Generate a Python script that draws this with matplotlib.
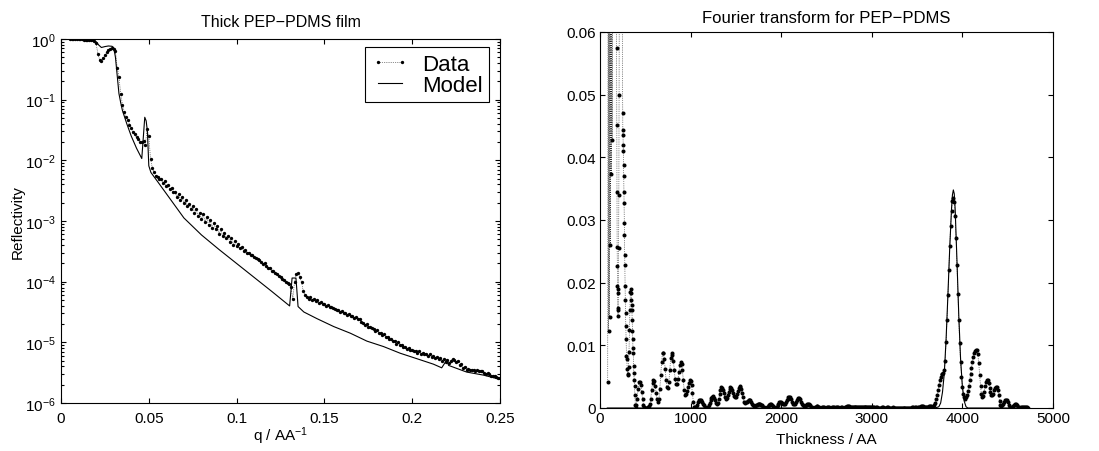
import numpy as np
import matplotlib
matplotlib.use("Agg")
import matplotlib.pyplot as plt
from matplotlib.ticker import FuncFormatter, FixedLocator, LogFormatterSciNotation, NullFormatter

plt.rcParams['font.family'] = ['Liberation Sans', 'DejaVu Sans']
plt.rcParams['mathtext.default'] = 'regular'
plt.rcParams['axes.linewidth'] = 0.8

# ---------------- Reflectivity (left panel) ----------------
# measured reflectivity, log10 values on a uniform q grid starting at 0.005 1/AA, step 0.001
log_refl_data = [
    0.000, -0.001, -0.001, -0.003, -0.002, -0.004, -0.006, -0.005, -0.009, -0.010,
    -0.013, -0.015, -0.018, -0.024, -0.036, -0.07, -0.25, -0.34, -0.36, -0.31,
    -0.27, -0.22, -0.185, -0.16, -0.155, -0.16, -0.20, -0.47, -0.62, -0.91,
    -1.08, -1.20, -1.29, -1.33, -1.41, -1.46, -1.53, -1.57, -1.62, -1.65,
    -1.69, -1.70, -1.68, -1.74, -1.49, -1.60, -1.98, -2.12, -2.19, -2.25,
    -2.28, -2.30, -2.31, -2.37, -2.34, -2.42, -2.41, -2.48, -2.45, -2.53,
    -2.52, -2.60, -2.56, -2.65, -2.61, -2.70, -2.66, -2.76, -2.72, -2.81,
    -2.76, -2.86, -2.80, -2.92, -2.87, -2.97, -2.89, -3.01, -2.94, -3.07,
    -2.98, -3.11, -3.03, -3.14, -3.09, -3.21, -3.14, -3.25, -3.19, -3.28,
    -3.24, -3.34, -3.28, -3.39, -3.33, -3.42, -3.38, -3.45, -3.43, -3.49,
    -3.48, -3.52, -3.52, -3.56, -3.56, -3.60, -3.61, -3.63, -3.65, -3.68,
    -3.71, -3.70, -3.74, -3.78, -3.78, -3.82, -3.83, -3.85, -3.88, -3.90,
    -3.93, -3.95, -3.98, -4.00, -4.02, -4.04, -4.09, -4.28, -4.00, -3.88,
    -3.86, -3.93, -4.01, -4.16, -4.22, -4.25, -4.28, -4.26, -4.30, -4.29,
    -4.32, -4.31, -4.35, -4.34, -4.37, -4.36, -4.40, -4.39, -4.42, -4.42,
    -4.44, -4.45, -4.47, -4.46, -4.50, -4.49, -4.52, -4.51, -4.55, -4.53,
    -4.57, -4.56, -4.60, -4.59, -4.62, -4.61, -4.67, -4.68, -4.71, -4.70,
    -4.74, -4.74, -4.77, -4.78, -4.81, -4.80, -4.84, -4.85, -4.88, -4.87,
    -4.91, -4.92, -4.95, -4.94, -4.98, -4.98, -5.02, -5.00, -5.05, -5.04,
    -5.08, -5.07, -5.11, -5.09, -5.13, -5.12, -5.15, -5.14, -5.17, -5.15,
    -5.19, -5.17, -5.20, -5.19, -5.22, -5.20, -5.24, -5.22, -5.26, -5.24,
    -5.28, -5.26, -5.30, -5.28, -5.32, -5.29, -5.34, -5.31, -5.27, -5.29,
    -5.33, -5.30, -5.38, -5.36, -5.42, -5.40, -5.45, -5.44, -5.46, -5.45,
    -5.46, -5.47, -5.46, -5.47, -5.47, -5.48, -5.50, -5.52, -5.51, -5.53,
    -5.55, -5.55, -5.56, -5.57, -5.58, -5.59,
]
q_data = 0.005 + 0.001 * np.arange(len(log_refl_data))
refl_data = 10.0 ** np.array(log_refl_data)

# fitted model curve
q_model = [
    0.005, 0.010, 0.015, 0.018, 0.020, 0.0215, 0.023, 0.025, 0.027, 0.029,
    0.030, 0.031, 0.032, 0.033, 0.034, 0.035, 0.0375, 0.040, 0.043, 0.046,
    0.0477, 0.0485, 0.0492, 0.0500, 0.0512, 0.055, 0.060, 0.065, 0.070, 0.080,
    0.090, 0.100, 0.110, 0.120, 0.1302, 0.1316, 0.1338, 0.1350, 0.1383, 0.1458,
    0.1553, 0.1648, 0.1742, 0.1837, 0.1932, 0.2027, 0.2121, 0.2168, 0.2197, 0.2207,
    0.2310, 0.2405, 0.2500,
]
log_refl_model = [
    0.0, -0.003, -0.012, -0.025, -0.045, -0.10, -0.14, -0.125, -0.115, -0.12,
    -0.14, -0.30, -0.60, -0.90, -1.05, -1.18, -1.40, -1.60, -1.80, -1.97,
    -1.29, -1.35, -1.52, -2.09, -2.20, -2.35, -2.55, -2.75, -2.95, -3.23,
    -3.47, -3.70, -3.93, -4.16, -4.40, -3.94, -3.94, -4.41, -4.50, -4.61,
    -4.74, -4.85, -4.98, -5.07, -5.18, -5.27, -5.36, -5.42, -5.29, -5.38,
    -5.49, -5.54, -5.61,
]
refl_model = 10.0 ** np.array(log_refl_model)

q_ticks = [0, 0.05, 0.1, 0.15, 0.2, 0.25]
refl_decades = [-6, -5, -4, -3, -2, -1, 0]

# ---------------- Fourier transform (right panel) ----------------
# low-thickness part, irregular sampling, large values run off the top of the plot
ft_early_thick = [
    85, 90, 95, 100, 105, 110, 115, 120, 125, 130, 135, 140, 150, 160, 170, 175,
    180, 183, 185, 187, 189, 191, 193, 195, 197, 199, 201, 203, 205, 208, 211, 214,
    225, 240, 250, 252, 254, 256, 258, 260, 262, 264, 266, 268, 270, 272, 274, 276,
    279, 282, 285, 288, 292, 296, 300, 305, 310, 315, 320, 325, 330, 335, 340,
    343, 346, 349, 352, 355, 358, 361, 364, 367, 370, 373, 377, 381, 385, 390, 395,
]
ft_early_amp = [
    0.0042, 0.09, 0.0123, 0.09, 0.0146, 0.09, 0.0260, 0.09, 0.0373, 0.09, 0.0428, 0.09,
    0.12, 0.10, 0.12, 0.09,
    0.075, 0.0575, 0.0452, 0.0345, 0.0257, 0.0227, 0.0195, 0.0184, 0.0157, 0.0147,
    0.0160, 0.0190, 0.0255, 0.034, 0.050, 0.075,
    0.10, 0.08, 0.047, 0.0443, 0.0436, 0.0420, 0.0410, 0.0388, 0.0370, 0.0345, 0.0327,
    0.0296, 0.0276, 0.0244, 0.0228, 0.0195,
    0.0172, 0.0152, 0.0131, 0.0110, 0.0083, 0.0078, 0.0062, 0.0054, 0.0052, 0.0065,
    0.0090, 0.0125, 0.0157, 0.0185, 0.0190,
    0.0184, 0.0173, 0.0165, 0.0157, 0.0141, 0.0123, 0.0110, 0.0095, 0.0088, 0.0067,
    0.0056, 0.0045, 0.0035, 0.0020, 0.0005, 0.0,
]

# main part, uniform 10 AA sampling starting at 400 AA (one row per 100 AA)
ft_main_amp = [
    0.0004, 0.0015, 0.0030, 0.0042, 0.0042, 0.0036, 0.0026, 0.0014, 0.0005, 0.0001,
    0.0, 0.0, 0.0, 0.0001, 0.0003, 0.0006, 0.0015, 0.0029, 0.0040, 0.0045,
    0.0043, 0.0035, 0.0024, 0.0014, 0.0010, 0.0014, 0.0030, 0.0053, 0.0074, 0.0088,
    0.0087, 0.0078, 0.0062, 0.0044, 0.0033, 0.0032, 0.0042, 0.0061, 0.0079, 0.0087,
    0.0085, 0.0075, 0.0060, 0.0046, 0.0038, 0.0039, 0.0046, 0.0057, 0.0068, 0.0073,
    0.0071, 0.0060, 0.0044, 0.0028, 0.0020, 0.0022, 0.0027, 0.0034, 0.0040, 0.0044,
    0.0043, 0.0037, 0.0024, 0.0010, 0.0002, 0.0001, 0.0002, 0.0005, 0.0009, 0.0012,
    0.0013, 0.0012, 0.0011, 0.0009, 0.0006, 0.0004, 0.0002, 0.0, 0.0, 0.0001,
    0.0004, 0.0008, 0.0012, 0.0016, 0.0018, 0.0019, 0.0016, 0.0012, 0.0008, 0.0006,
    0.0008, 0.0014, 0.0022, 0.0029, 0.0033, 0.0032, 0.0029, 0.0024, 0.0018, 0.0015,
    0.0016, 0.0020, 0.0026, 0.0031, 0.0033, 0.0032, 0.0029, 0.0024, 0.0019, 0.0017,
    0.0018, 0.0022, 0.0027, 0.0032, 0.0035, 0.0034, 0.0031, 0.0024, 0.0017, 0.0010,
    0.0008, 0.0009, 0.0010, 0.0011, 0.0013, 0.0013, 0.0012, 0.0010, 0.0007, 0.0005,
    0.0003, 0.0003, 0.0004, 0.0005, 0.0006, 0.0007, 0.0007, 0.0006, 0.0005, 0.0004,
    0.0002, 0.0001, 0.0, 0.0, 0.0001, 0.0002, 0.0004, 0.0005, 0.0006, 0.0006,
    0.0005, 0.0003, 0.0002, 0.0, 0.0, 0.0002, 0.0005, 0.0007, 0.0009, 0.0010,
    0.0010, 0.0008, 0.0006, 0.0006, 0.0007, 0.0010, 0.0013, 0.0015, 0.0017, 0.0017,
    0.0017, 0.0014, 0.0010, 0.0007, 0.0006, 0.0007, 0.0010, 0.0013, 0.0015, 0.0016,
    0.0016, 0.0014, 0.0010, 0.0007, 0.0005, 0.0003, 0.0003, 0.0004, 0.0005, 0.0006,
    0.0006, 0.0006, 0.0004, 0.0002, 0.0001, 0.0, 0.0, 0.0001, 0.0002, 0.0003,
    0.0003, 0.0002, 0.0001, 0.0, 0.0, 0.0001, 0.0001, 0.0001, 0.0, 0.0,
    0.0, 0.0001, 0.0001, 0.0001, 0.0, 0.0, 0.0001, 0.0001, 0.0001, 0.0,
    0.0, 0.0001, 0.0001, 0.0001, 0.0, 0.0, 0.0001, 0.0001, 0.0, 0.0,
    0.0001, 0.0002, 0.0002, 0.0003, 0.0003, 0.0003, 0.0002, 0.0001, 0.0001, 0.0001,
    0.0001, 0.0001, 0.0001, 0.0002, 0.0002, 0.0002, 0.0002, 0.0002, 0.0001, 0.0001,
    0.0001, 0.0001, 0.0002, 0.0002, 0.0001, 0.0001, 0.0001, 0.0001, 0.0001, 0.0001,
    0.0001, 0.0001, 0.0001, 0.0, 0.0, 0.0001, 0.0001, 0.0, 0.0, 0.0,
    0.0, 0.0001, 0.0001, 0.0, 0.0, 0.0, 0.0, 0.0001, 0.0001, 0.0,
    0.0, 0.0, 0.0, 0.0001, 0.0, 0.0, 0.0, 0.0, 0.0, 0.0,
    0.0, 0.0, 0.0, 0.0, 0.0, 0.0, 0.0, 0.0, 0.0, 0.0,
    0.0, 0.0, 0.0, 0.0, 0.0001, 0.0001, 0.0, 0.0, 0.0001, 0.0001,
    0.0, 0.0001, 0.0001, 0.0002, 0.0003, 0.0003, 0.0003, 0.0002, 0.0001, 0.0001,
    0.0001, 0.0001, 0.0002, 0.0003, 0.0003, 0.0003, 0.0002, 0.0001, 0.0001, 0.0004,
    0.0008, 0.0014, 0.0021, 0.0028, 0.0036, 0.0044, 0.0050, 0.0054, 0.0055, 0.0056,
    0.0060, 0.0075, 0.0105, 0.0140, 0.0180, 0.0220, 0.0258, 0.0290, 0.0315, 0.0330,
    0.0335, 0.0328, 0.0306, 0.0272, 0.0228, 0.0182, 0.0140, 0.0103, 0.0073, 0.0050,
    0.0033, 0.0022, 0.0017, 0.0015, 0.0017, 0.0021, 0.0027, 0.0035, 0.0044, 0.0054,
    0.0064, 0.0073, 0.0081, 0.0087, 0.0091, 0.0093, 0.0093, 0.0086, 0.0072, 0.0053,
    0.0035, 0.0022, 0.0017, 0.0019, 0.0026, 0.0035, 0.0042, 0.0045, 0.0045, 0.0040,
    0.0032, 0.0025, 0.0021, 0.0020, 0.0023, 0.0028, 0.0032, 0.0033, 0.0033, 0.0028,
    0.0020, 0.0011, 0.0005, 0.0003, 0.0004, 0.0007, 0.0010, 0.0012, 0.0013, 0.0012,
    0.0009, 0.0005, 0.0002, 0.0, 0.0, 0.0001, 0.0003, 0.0005, 0.0006, 0.0006,
    0.0004, 0.0002, 0.0001, 0.0, 0.0, 0.0001, 0.0001, 0.0002, 0.0002, 0.0002,
    0.0001, 0.0001, 0.0,
]
ft_main_thick = 400 + 10 * np.arange(len(ft_main_amp))

ft_thick = np.concatenate([ft_early_thick, ft_main_thick])
ft_amp = np.concatenate([ft_early_amp, ft_main_amp])

# model layer-thickness peak
ft_model_thick = [80, 3700, 3740, 3760, 3780, 3800, 3820, 3840, 3860, 3880, 3890,
                  3900, 3910, 3920, 3940, 3960, 3980, 4000, 4020, 4040, 4060, 4720]
ft_model_amp = [0.0, 0.0, 0.0002, 0.0008, 0.0025, 0.0055, 0.011, 0.018, 0.0255, 0.0318,
                0.0340, 0.0348, 0.0342, 0.0318, 0.0235, 0.0148, 0.0078, 0.0034, 0.0011,
                0.0002, 0.0, 0.0]

thick_ticks = [0, 1000, 2000, 3000, 4000, 5000]
amp_ticks = [0, 0.01, 0.02, 0.03, 0.04, 0.05, 0.06]

# ---------------- figure ----------------
W, H = 1099, 452
fig = plt.figure(figsize=(W / 100, H / 100), dpi=100)
fig.patch.set_facecolor('white')

data_style = dict(linestyle=':', linewidth=0.5, color='#222222', marker='o',
                  markeredgewidth=0, markerfacecolor='black')
model_style = dict(linestyle='-', linewidth=0.8, color='black')
fmt_g = FuncFormatter(lambda v, p: '%g' % v)
FS = 11

# left panel
ax1 = fig.add_axes([61 / W, 1 - 404 / H, 439 / W, 364 / H])
ax1.plot(q_data, refl_data, label='Data', markersize=2.4, **data_style)
ax1.plot(q_model, refl_model, label='Model', **model_style)
ax1.set_yscale('log')
ax1.set_xlim(0, 0.25)
ax1.set_ylim(1e-6, 1)
ax1.set_xticks(q_ticks)
ax1.xaxis.set_major_formatter(fmt_g)
major_y = [10.0 ** e for e in refl_decades]
minor_y = [k * 10.0 ** e for e in refl_decades[:-1] for k in range(2, 10)]
ax1.yaxis.set_major_locator(FixedLocator(major_y))
ax1.yaxis.set_minor_locator(FixedLocator(minor_y))
ax1.yaxis.set_major_formatter(LogFormatterSciNotation())
ax1.yaxis.set_minor_formatter(NullFormatter())
ax1.tick_params(which='both', direction='in', top=True, right=True, labelsize=FS,
                width=0.8, color='black')
ax1.tick_params(which='major', length=3.4)
ax1.tick_params(which='minor', length=2.0)
ax1.tick_params(axis='x', pad=6)
ax1.tick_params(axis='y', pad=4)
ax1.set_title('Thick PEP\u2212PDMS film', fontsize=11.5, pad=9)
ax1.set_xlabel('q / AA$^{\u22121}$', fontsize=FS)
ax1.xaxis.set_label_coords(0.5, -(425 - 404) / 364)
ax1.set_ylabel('Reflectivity', fontsize=FS)
ax1.yaxis.set_label_coords(-(61 - 25) / 439, 0.5)
leg = ax1.legend(loc='upper right', bbox_to_anchor=(0.975, 0.978), borderaxespad=0,
                 fontsize=16, numpoints=2, handlelength=1.65, handletextpad=0.6,
                 labelspacing=0.0, borderpad=0.3, fancybox=False, framealpha=1,
                 edgecolor='black')
leg.get_frame().set_linewidth(0.8)

# right panel
ax2 = fig.add_axes([600 / W, 1 - 409 / H, 453 / W, 376 / H])
ax2.plot(ft_thick, ft_amp, markersize=2.9, **data_style)
ax2.plot(ft_model_thick, ft_model_amp, **model_style)
ax2.set_xlim(0, 5000)
ax2.set_ylim(0, 0.06)
ax2.set_xticks(thick_ticks)
ax2.set_yticks(amp_ticks)
ax2.xaxis.set_major_formatter(fmt_g)
ax2.yaxis.set_major_formatter(fmt_g)
ax2.tick_params(which='both', direction='in', top=True, right=True, labelsize=FS,
                width=0.8, length=3.4, color='black')
ax2.tick_params(axis='x', pad=2.5)
ax2.tick_params(axis='y', pad=3)
ax2.set_title('Fourier transform for PEP\u2212PDMS', fontsize=12, pad=7)
ax2.set_xlabel('Thickness / AA', fontsize=FS)
ax2.xaxis.set_label_coords(0.5, -(433 - 409) / 376)

fig.savefig('out.png', dpi=100, facecolor='white')
